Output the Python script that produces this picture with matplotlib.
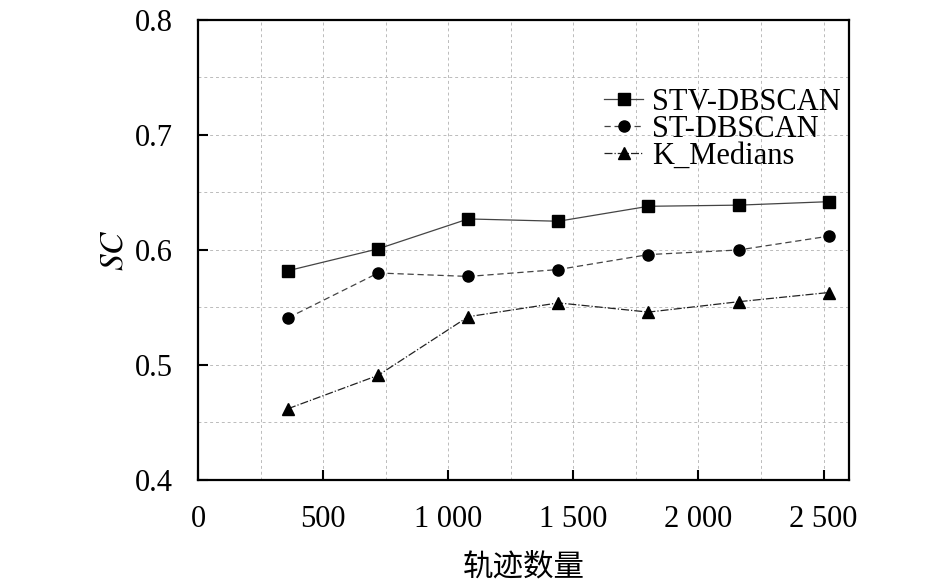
import numpy as np
import matplotlib.pyplot as plt
from matplotlib.ticker import MultipleLocator, FuncFormatter

plt.rcParams['font.family'] = ['Liberation Serif', 'Noto Sans CJK SC']
plt.rcParams['mathtext.fontset'] = 'stix'

# trajectory counts
n_traj = [360, 720, 1080, 1440, 1800, 2160, 2520]

sc_stv = [0.582, 0.601, 0.627, 0.625, 0.638, 0.639, 0.642]
sc_st = [0.541, 0.580, 0.577, 0.583, 0.596, 0.600, 0.612]
sc_kmed = [0.462, 0.491, 0.542, 0.554, 0.546, 0.555, 0.563]

labels = ['STV-DBSCAN', 'ST-DBSCAN', 'K_Medians']

fig = plt.figure(figsize=(9.45, 5.83), dpi=100)
ax = fig.add_axes([0.2095, 0.1767, 0.6885, 0.789])

ax.plot(n_traj, sc_stv, '-', color='#444444', lw=0.9, marker='s', ms=8,
        mfc='k', mec='k', label=labels[0])
ax.plot(n_traj, sc_st, '--', color='#444444', lw=0.9, marker='o', ms=8,
        mfc='k', mec='k', dashes=(5, 3), label=labels[1])
ax.plot(n_traj, sc_kmed, '-.', color='#222222', lw=0.9, marker='^', ms=9,
        mfc='k', mec='k', label=labels[2])

ax.set_xlim(0, 2600)
ax.set_ylim(0.4, 0.8)
ax.xaxis.set_major_locator(MultipleLocator(500))
ax.xaxis.set_minor_locator(MultipleLocator(250))
ax.yaxis.set_major_locator(MultipleLocator(0.1))
ax.yaxis.set_minor_locator(MultipleLocator(0.05))
ax.xaxis.set_major_formatter(FuncFormatter(lambda v, p: f'{int(v):,}'.replace(',', ' ')))
ax.yaxis.set_major_formatter(FuncFormatter(lambda v, p: f'{v:.1f}'))

ax.grid(True, which='both', color='#bbbbbb', ls=(0, (3, 3)), lw=0.7)
ax.set_axisbelow(True)
ax.tick_params(which='major', direction='in', length=7, width=1.5,
               labelsize=22)
ax.tick_params(which='minor', length=0)
ax.tick_params(axis='x', pad=18)
ax.tick_params(axis='y', pad=18)
for s in ax.spines.values():
    s.set_linewidth(1.6)

ax.set_xlabel('轨迹数量', fontsize=22, labelpad=14)
ax.set_ylabel('$SC$', fontsize=24, labelpad=4)

ax.legend(loc='upper right', bbox_to_anchor=(0.988, 0.852), frameon=False,
          fontsize=22, handlelength=1.3, handletextpad=0.28, labelspacing=-0.07,
          borderaxespad=0.0, borderpad=0.0)

fig.savefig('out.png', dpi=100)
